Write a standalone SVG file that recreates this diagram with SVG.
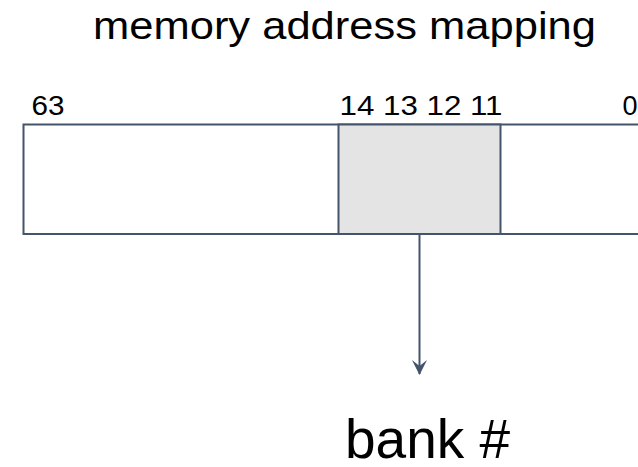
<svg xmlns="http://www.w3.org/2000/svg" width="638" height="467" viewBox="0 0 638 467">
<style>
text{font-family:"Liberation Sans",Arial,sans-serif;fill:#000}
.box{fill:#fff;stroke:#44546A;stroke-width:2}
.bank{fill:#E4E4E4;stroke:#44546A;stroke-width:2}
.conn{stroke:#44546A;stroke-width:2;fill:none}
.lbl{font-size:27px}
</style>
<defs>
<marker id="ah" viewBox="0 0 16 16" refX="14" refY="8" markerWidth="16" markerHeight="16" markerUnits="userSpaceOnUse" orient="auto">
<path d="M15,8 L0,0.5 L6,8 L0,15.5 Z" fill="#44546A"/>
</marker>
</defs>
<text x="93" y="39" font-size="39" textLength="503" lengthAdjust="spacingAndGlyphs">memory address mapping</text>
<g id="address">
<rect class="box" x="23.5" y="124.5" width="640" height="109.5"/>
<text class="lbl" x="31.5" y="114.5" textLength="33" lengthAdjust="spacingAndGlyphs">63</text>
<text class="lbl" x="622.5" y="114.5">0</text>
</g>
<g id="bankbits">
<rect class="bank" x="338.5" y="124.5" width="162" height="109.5"/>
<text class="lbl" x="339.5" y="114.5" textLength="163" lengthAdjust="spacingAndGlyphs">14 13 12 11</text>
</g>
<g id="connectors">
<line class="conn" x1="419.5" y1="235" x2="419.5" y2="374" marker-end="url(#ah)"/>
</g>
<g id="banknum">
<text x="345" y="458" font-size="55">bank #</text>
</g>
</svg>
